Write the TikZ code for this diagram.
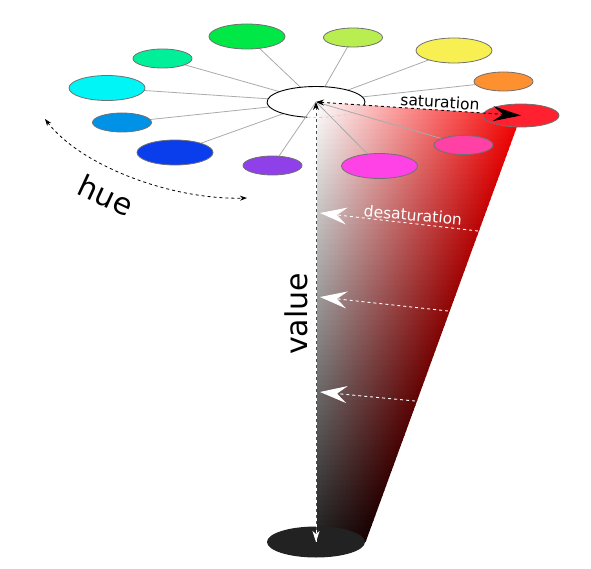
\documentclass[tikz,border=0pt]{standalone}
\usepackage{fontspec}
\setmainfont{DejaVu Sans}
\usetikzlibrary{arrows.meta,shapes.geometric}
\definecolor{cgreen}{HTML}{00E845}
\definecolor{cmint}{HTML}{00F09A}
\definecolor{ccyan}{HTML}{00F6F6}
\definecolor{clblue}{HTML}{0092E6}
\definecolor{cblue}{HTML}{0A3EEC}
\definecolor{cpurple}{HTML}{9040E8}
\definecolor{cmagenta}{HTML}{FF42E6}
\definecolor{cpink}{HTML}{FF40A4}
\definecolor{cred}{HTML}{FF2030}
\definecolor{corange}{HTML}{FF9030}
\definecolor{cyellow}{HTML}{F8F052}
\definecolor{cyg}{HTML}{B8EE50}
\definecolor{spokecol}{HTML}{AAAAAA}
\definecolor{rimcol}{HTML}{707070}
\definecolor{basecol}{HTML}{222222}
\begin{document}
\begin{tikzpicture}[x=1pt,y=-1pt,
  bigell/.style={ellipse, draw=rimcol, line width=0.8pt, minimum width=76pt, minimum height=25pt, inner sep=0pt},
  smallell/.style={ellipse, draw=rimcol, line width=0.8pt, minimum width=59pt, minimum height=19pt, inner sep=0pt},
  spokeline/.style={draw=spokecol, line width=0.8pt},
  lbl/.style={font=\fontsize{15.5}{18}\selectfont, inner sep=0pt},
  biglbl/.style={font=\fontsize{30}{36}\selectfont, inner sep=0pt},
  desatarrow/.style={white, dashed, line width=0.9pt, -{Stealth[length=27pt,width=17pt,inset=10pt]}},
]
\useasboundingbox (0,0) rectangle (591,569);
% key coordinates
\coordinate (W) at (316,102);
\coordinate (Bc) at (316,542);
\coordinate (Rc) at (521,115.5);
\coordinate (BR) at (365.6,542);
\coordinate (cG) at (247,36.5);
\coordinate (cM) at (162.5,58.5);
\coordinate (cC) at (107,88);
\coordinate (cL) at (122,122.5);
\coordinate (cB) at (175,152.5);
\coordinate (cP) at (272.5,165.5);
\coordinate (cYG) at (353,37.5);
\coordinate (cY) at (454,50.5);
\coordinate (cO) at (503.5,81.5);
\coordinate (cPk) at (463.5,145);
\coordinate (cMa) at (379.5,166);
% back spokes
\foreach \c in {cG,cM,cC,cL,cB,cYG,cY,cO}{\draw[spokeline] (W) -- (\c);}
% back ellipses
\node[bigell, fill=cgreen] (green) at (cG) {};
\node[smallell, fill=cmint] (mint) at (cM) {};
\node[bigell, fill=ccyan] (cyan) at (cC) {};
\node[smallell, fill=clblue] (lblue) at (cL) {};
\node[bigell, fill=cblue] (blue) at (cB) {};
\node[smallell, fill=cyg] (yg) at (cYG) {};
\node[bigell, fill=cyellow] (yellow) at (cY) {};
\node[smallell, fill=corange] (orange) at (cO) {};
% white top ellipse
\node[ellipse, fill=white, minimum width=98pt, minimum height=31pt, inner sep=0pt] (top) at (W) {};
\draw[black, line width=0.9pt] (W) ++(-11.4:49pt and 15.5pt) arc[start angle=-11.4, end angle=260, x radius=49pt, y radius=15.5pt];
% gradient body
\begin{scope}
\clip (W) -- (Rc) -- (BR) -- (Bc) -- cycle;
\foreach \i in {0,...,88}{
  \pgfmathsetmacro{\ya}{100+5*\i}
  \pgfmathsetmacro{\yb}{\ya+5.8}
  \pgfmathsetmacro{\tv}{min(max((\ya+2.5-102)/440,0),1)}
  \pgfmathsetmacro{\xr}{min(526,523-0.364*(\ya-115.5))}
  \pgfmathsetmacro{\lw}{100-88*\tv}
  \pgfmathsetmacro{\rr}{100-92*\tv}
  \shade[left color=white!\lw!black, right color=red!\rr!black] (316,\ya) rectangle (\xr,\yb);
}
\end{scope}
% hidden back arc of top ellipse
\draw[white!65!gray, dashed, line width=0.8pt] (W) ++(-100:49pt and 15.5pt) arc[start angle=-100, end angle=-11.4, x radius=49pt, y radius=15.5pt];
% base ellipse
\node[ellipse, fill=basecol, minimum width=98pt, minimum height=31pt, inner sep=0pt] (base) at (Bc) {};
% front spokes and ellipses
\foreach \c in {cP,cMa,cPk}{\draw[spokeline] (W) -- (\c);}
\node[smallell, fill=cpurple] (purple) at (cP) {};
\node[bigell, fill=cmagenta] (magenta) at (cMa) {};
\node[smallell, fill=cpink] (pink) at (cPk) {};
\node[bigell, minimum height=23pt, fill=cred] (redell) at (Rc) {};
% saturation arrow
\draw[black, dashed, line width=0.9pt, {Stealth[length=8pt,width=6pt]}-{Stealth[length=28pt,width=15pt,inset=10pt]}] (W) -- (Rc);
% value arrow
\draw[white, line width=0.9pt] (W) -- (Bc);
\draw[black!70, dashed, line width=0.9pt, {Stealth[black,length=8pt,width=6pt]}-{Stealth[white,length=11pt,width=7pt,inset=3pt]}] (W) -- (Bc);
% desaturation arrows
\coordinate (d1a) at (478,231); \coordinate (d1b) at (320,213);
\coordinate (d2a) at (448,311); \coordinate (d2b) at (320,297);
\coordinate (d3a) at (415,401); \coordinate (d3b) at (320,392);
\draw[desatarrow] (d1a) -- (d1b);
\draw[desatarrow] (d2a) -- (d2b);
\draw[desatarrow] (d3a) -- (d3b);
% hue arc
\coordinate (h1) at (45,119);
\coordinate (h2) at (247,198);
\draw[black, dashed, line width=0.8pt, {Stealth[length=7pt,width=5pt]}-{Stealth[length=7pt,width=5pt]}] (h1) .. controls (80,165) and (170,200) .. (h2);
% labels
\node[lbl, rotate=-3.7] (sat) at (440,102) {saturation};
\node[lbl, white, rotate=-5] (desat) at (413,215) {desaturation};
\node[biglbl, rotate=90] (val) at (296,314) {value};
\node[biglbl, rotate=-25] (hue) at (106,195) {hue};
\end{tikzpicture}
\end{document}
